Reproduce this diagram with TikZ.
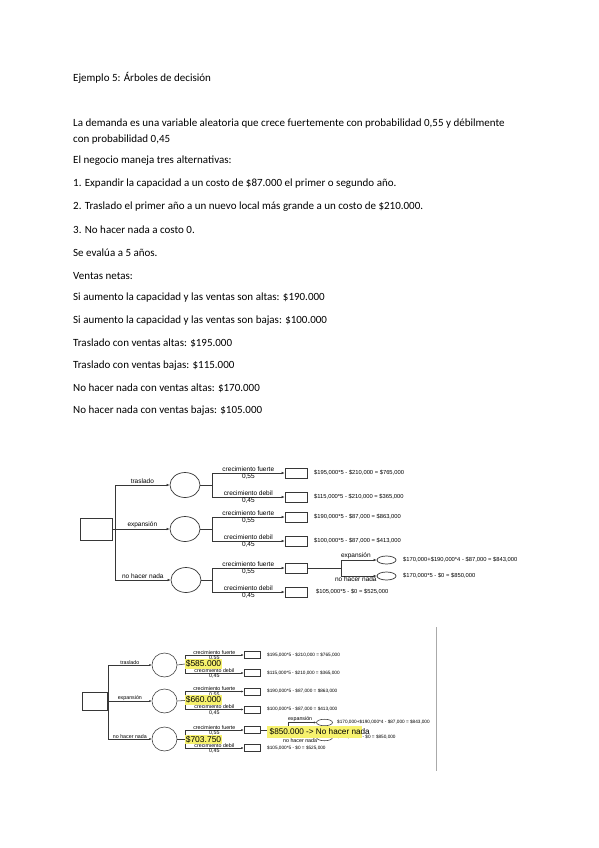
\documentclass[tikz,border=0pt]{standalone}
\usepackage{fontspec}
\setmainfont{Carlito}
\newfontfamily\dgfont{Liberation Sans}
\usetikzlibrary{arrows.meta,shapes.geometric}
\definecolor{lncol}{RGB}{55,55,55}
\definecolor{hl}{RGB}{247,242,110}
\definecolor{edge}{RGB}{170,170,170}
\begin{document}
\begin{tikzpicture}[x=1pt,y=-1pt,
  txt/.style={anchor=west,inner sep=0,font=\fontsize{11}{13}\selectfont},
  wire/.style={draw=lncol,line width=0.7pt},
  ar/.style={wire,-{Latex[length=3pt,width=2.6pt]}},
  dbox/.style={draw=lncol,line width=0.7pt,minimum width=22pt,minimum height=10pt,inner sep=0},
  chance/.style={draw=lncol,line width=0.7pt,ellipse,minimum width=30pt,minimum height=25pt,inner sep=0},
  sub/.style={draw=lncol,line width=0.7pt,ellipse,minimum width=19pt,minimum height=8pt,inner sep=0},
  lab/.style={font=\dgfont\fontsize{6.5}{7}\selectfont,inner sep=0.8pt},
  val/.style={font=\dgfont\fontsize{5.8}{7}\selectfont,anchor=west,inner sep=0},
  wireb/.style={draw=lncol,line width=0.55pt},
  arb/.style={wireb,-{Latex[length=2.4pt,width=2.1pt]}},
  dboxb/.style={draw=lncol,line width=0.55pt,minimum width=16pt,minimum height=7pt,inner sep=0},
  chanceb/.style={draw=lncol,line width=0.55pt,ellipse,minimum width=25pt,minimum height=24pt,inner sep=0},
  subb/.style={draw=lncol,line width=0.55pt,ellipse,minimum width=16pt,minimum height=6.5pt,inner sep=0},
  labb/.style={font=\dgfont\fontsize{5.3}{6}\selectfont,inner sep=0.6pt},
  valb/.style={font=\dgfont\fontsize{4.7}{6}\selectfont,anchor=west,inner sep=0},
  hil/.style={fill=hl,inner sep=1.2pt,font=\dgfont\fontsize{8.5}{9}\selectfont}
]
\useasboundingbox (0,0) rectangle (599,848);
\fill[white] (0,0) rectangle (599,848);

% ---------------- text ----------------
\node[txt] (l0) at (73,78) {Ejemplo 5: Árboles de decisión};
\node[txt] (l1) at (73,124) {La demanda es una variable aleatoria que crece fuertemente con probabilidad 0,55 y débilmente};
\node[txt] (l2) at (73,140) {con probabilidad 0,45};
\node[txt] (l3) at (73,161) {El negocio maneja tres alternativas:};
\node[txt] (l4) at (73,184) {1. Expandir la capacidad a un costo de \$87.000 el primer o segundo año.};
\node[txt] (l5) at (73,207) {2. Traslado el primer año a un nuevo local más grande a un costo de \$210.000.};
\node[txt] (l6) at (73,230) {3. No hacer nada a costo 0.};
\node[txt] (l7) at (73,253) {Se evalúa a 5 años.};
\node[txt] (l8) at (73,276) {Ventas netas:};
\node[txt] (l9) at (73,298) {Si aumento la capacidad y las ventas son altas: \$190.000};
\node[txt] (l10) at (73,321) {Si aumento la capacidad y las ventas son bajas: \$100.000};
\node[txt] (l11) at (73,343) {Traslado con ventas altas: \$195.000};
\node[txt] (l12) at (73,366) {Traslado con ventas bajas: \$115.000};
\node[txt] (l13) at (73,388) {No hacer nada con ventas altas: \$170.000};
\node[txt] (l14) at (73,411) {No hacer nada con ventas bajas: \$105.000};

% ---------------- diagram 1 ----------------
\node[dbox,minimum width=32pt,minimum height=22pt] (D1) at (96,529) {};
\coordinate (T1) at (115,485);
\coordinate (T2) at (115,529);
\coordinate (T3) at (115,580);
\node[chance] (C1) at (185,485) {};
\node[chance] (C2) at (185,529) {};
\node[chance] (C3) at (186,580) {};
\draw[wire] (D1.east) -- (T2);
\draw[wire] (T1) -- (T3);
\draw[ar] (T1) -- (C1.west) node[lab,midway,above] {traslado};
\draw[ar] (T2) -- (C2.west) node[lab,midway,above] {expansión};
\draw[ar] (T3) -- (C3.west) node[lab,midway,above] {no hacer nada};

\foreach \i/\y in {1/485,2/529,3/580}{
  \coordinate (J\i) at (212,\y);
  \coordinate (J\i a) at (212,\y-12);
  \coordinate (J\i b) at (212,\y+12);
  \node[dbox] (B\i a) at (296,\y-12) {};
  \node[dbox] (B\i b) at (296,\y+12) {};
  \draw[wire] (C\i.east) -- (J\i);
  \draw[wire] (J\i a) -- (J\i b);
  \draw[ar] (J\i a) -- (B\i a.west) node[lab,midway,above] {crecimiento fuerte} node[lab,midway,below] {0,55};
  \draw[ar] (J\i b) -- (B\i b.west) node[lab,midway,above] {crecimiento debil} node[lab,midway,below] {0,45};
}
\node[val] (V1a) at (314,473) {\$195,000*5 - \$210,000 = \$765,000};
\node[val] (V1b) at (314,497) {\$115,000*5 - \$210,000 = \$365,000};
\node[val] (V2a) at (314,517) {\$190,000*5 - \$87,000 = \$863,000};
\node[val] (V2b) at (314,541) {\$100,000*5 - \$87,000 = \$413,000};
\node[val] (V3b) at (316,592) {\$105,000*5 - \$0 = \$525,000};

\coordinate (K) at (341,568);
\coordinate (Ka) at (341,560);
\coordinate (Kb) at (341,576);
\node[sub] (E1) at (386.5,560) {};
\node[sub] (E2) at (386.5,576) {};
\draw[wire] (B3a.east) -- (K);
\draw[wire] (Ka) -- (Kb);
\draw[ar] (Ka) -- (E1.west) node[lab,midway,above,xshift=-3pt] {expansión};
\draw[ar] (Kb) -- (E2.west) node[lab,midway,below,xshift=-3pt] {no hacer nada};
\begin{scope}
  \clip (390,550) rectangle (527,570);
  \node[val] (W1) at (403,560) {\$170,000+\$190,000*4 - \$87,000 = \$843,000};
\end{scope}
\node[val] (W2) at (403,576) {\$170,000*5 - \$0 = \$850,000};

% ---------------- diagram 2 ----------------
\node[dboxb,minimum width=25pt,minimum height=18pt] (D2) at (94.5,701) {};
\coordinate (S1) at (108,665);
\coordinate (S2) at (108,701);
\coordinate (S3) at (108,739);
\node[chanceb] (G1) at (164.5,665) {};
\node[chanceb] (G2) at (164.5,701) {};
\node[chanceb] (G3) at (164.5,739) {};
\draw[wireb] (D2.east) -- (S2);
\draw[wireb] (S1) -- (S3);
\draw[arb] (S1) -- (G1.west) node[labb,midway,above] {traslado};
\draw[arb] (S2) -- (G2.west) node[labb,midway,above] {expansión};
\draw[arb] (S3) -- (G3.west) node[labb,midway,above] {no hacer nada};

\foreach \i/\y in {1/664,2/700.5,3/739}{
  \coordinate (H\i) at (185,\y);
  \coordinate (H\i a) at (185,\y-9);
  \coordinate (H\i b) at (185,\y+9);
  \node[dboxb] (F\i a) at (252,\y-9) {};
  \node[dboxb] (F\i b) at (252,\y+9) {};
  \draw[wireb] (G\i.east) -- (H\i);
  \draw[wireb] (H\i a) -- (H\i b);
  \draw[arb] (H\i a) -- (F\i a.west) node[labb,midway,above] {crecimiento fuerte} node[labb,midway,below] {0,55};
  \draw[arb] (H\i b) -- (F\i b.west) node[labb,midway,above] {crecimiento debil} node[labb,midway,below] {0,45};
}
\node[valb] (U1a) at (267,655) {\$195,000*5 - \$210,000 = \$765,000};
\node[valb] (U1b) at (267,673) {\$115,000*5 - \$210,000 = \$365,000};
\node[valb] (U2a) at (267,691.5) {\$190,000*5 - \$87,000 = \$863,000};
\node[valb] (U2b) at (267,709) {\$100,000*5 - \$87,000 = \$413,000};
\node[valb] (U3b) at (267,748.5) {\$105,000*5 - \$0 = \$525,000};

\coordinate (Q) at (288,730);
\coordinate (Qa) at (288,722.5);
\coordinate (Qb) at (288,737.5);
\node[subb] (R1) at (324.5,722.5) {};
\node[subb] (R2) at (324.5,737.5) {};
\draw[wireb] (F3a.east) -- (Q);
\draw[wireb] (Qa) -- (Qb);
\draw[arb] (Qa) -- (R1.west) node[labb,midway,above,xshift=-2pt] {expansión};
\draw[arb] (Qb) -- (R2.west) node[labb,midway,below,xshift=-2pt] {no hacer nada};
\node[valb] (X1) at (337,722.5) {\$170,000+\$190,000*4 - \$87,000 = \$843,000};
\node[valb] (X2) at (337,737.5) {\$170,000*5 - \$0 = \$850,000};

% highlights
\node[hil] (h1) at (203.5,664) {\$585.000};
\node[hil] (h2) at (203.5,700) {\$660.000};
\node[hil] (h3) at (203.5,739.5) {\$703.750};
\fill[hl] (267,725.5) rectangle (362,737.5);
\node[font=\dgfont\fontsize{8.2}{9}\selectfont,anchor=west,inner sep=0] (h4) at (269.5,731.5) {\$850.000 -> No hacer nada};

% screenshot edge
\draw[edge,line width=0.8pt] (436.5,627) -- (436.5,771);
\end{tikzpicture}
\end{document}
